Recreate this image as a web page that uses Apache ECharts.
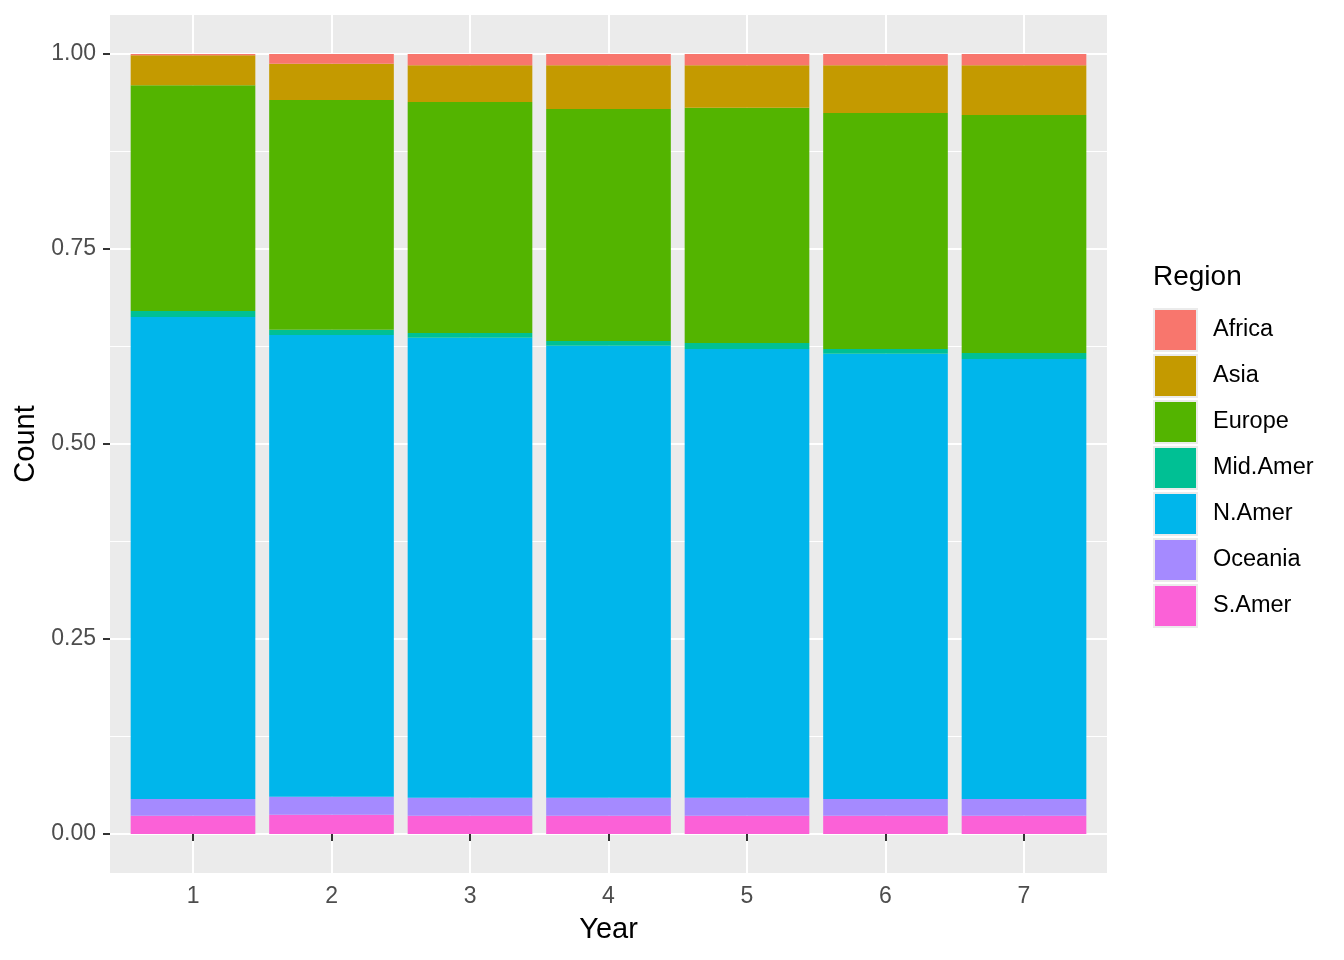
<!doctype html>
<html>
<head>
    <meta charset="utf-8" />
    <script src="https://cdn.jsdelivr.net/npm/echarts@6/dist/echarts.min.js" type="text/javascript"></script>
    <style>
        html, body { margin: 0; padding: 0; background: #fff; }
    </style>
</head>
<body>
<div id="charts" style="width: 1344px;height: 960px;"></div>
<script>
// years on the x axis
const years = [1, 2, 3, 4, 5, 6, 7];
const yTicks = [0, 0.25, 0.5, 0.75, 1];
const yMinor = [0.125, 0.375, 0.625, 0.875];

// share of each region per year
const sAmer = [0.0235, 0.0248, 0.0235, 0.0235, 0.0235, 0.0235, 0.0235];
const oceania = [0.0214, 0.0231, 0.0231, 0.0231, 0.0231, 0.0214, 0.0214];
const nAmer = [0.6179, 0.5918, 0.5897, 0.5794, 0.5752, 0.5709, 0.5641];
const midAmer = [0.0077, 0.0068, 0.0060, 0.0060, 0.0077, 0.0060, 0.0077];
const europe = [0.2895, 0.2945, 0.2962, 0.2975, 0.3015, 0.3026, 0.3051];
const asia = [0.0383, 0.0465, 0.0470, 0.0560, 0.0545, 0.0611, 0.0637];
const africa = [0.0017, 0.0125, 0.0145, 0.0145, 0.0145, 0.0145, 0.0145];

const regions = ["Africa", "Asia", "Europe", "Mid.Amer", "N.Amer", "Oceania", "S.Amer"];

// bottom of the stack first
const stackOrder = [
    ["S.Amer", sAmer, '#FB61D7'],
    ["Oceania", oceania, '#A58AFF'],
    ["N.Amer", nAmer, '#00B6EB'],
    ["Mid.Amer", midAmer, '#00C094'],
    ["Europe", europe, '#53B400'],
    ["Asia", asia, '#C49A00'],
    ["Africa", africa, '#F8766D']
];

const FONT = 'Liberation Sans';

let series = stackOrder.map(([name, values, color]) => ({
    name: name,
    type: 'bar',
    stack: 'total',
    xAxisIndex: 0,
    yAxisIndex: 0,
    barWidth: '90%',
    itemStyle: { color: color },
    emphasis: { disabled: true },
    data: values
}));

let options = {
    animation: false,
    textStyle: { fontFamily: FONT },
    title: {
        text: 'Region',
        left: 1153,
        top: 263,
        padding: 0,
        textStyle: { fontFamily: FONT, fontSize: 28, fontWeight: 'normal', color: '#000' }
    },
    legend: {
        orient: 'vertical',
        left: 1153,
        top: 308,
        padding: 0,
        icon: 'rect',
        itemWidth: 43,
        itemHeight: 42,
        itemGap: 2,
        selectedMode: false,
        data: regions,
        itemStyle: { borderColor: '#EBEBEB', borderWidth: 2 },
        textStyle: { fontFamily: FONT, fontSize: 23.5, color: '#000', padding: [0, 0, 0, 11] }
    },
    grid: [{
        // bars: 0..1 on y, categories with ggplot's 0.6 expansion
        left: 123.75,
        right: 250.75,
        top: 54,
        bottom: 126
    }, {
        // the grey panel with its axes and grid lines
        left: 110,
        right: 237,
        top: 15,
        bottom: 87,
        show: true,
        backgroundColor: '#EBEBEB',
        borderWidth: 0
    }],
    xAxis: [{
        type: 'category',
        gridIndex: 0,
        data: years,
        show: false
    }, {
        type: 'value',
        gridIndex: 1,
        min: 0.4,
        max: 7.6,
        name: 'Year',
        nameLocation: 'middle',
        nameGap: 42,
        nameTextStyle: { fontFamily: FONT, fontSize: 29, color: '#000' },
        axisLine: { show: false },
        axisTick: { show: true, length: 7, customValues: years, lineStyle: { color: '#333333', width: 2 } },
        axisLabel: { customValues: years, margin: 12, fontFamily: FONT, fontSize: 23, color: '#4D4D4D' },
        splitLine: { show: true, lineStyle: { color: '#FFFFFF', width: 2 } }
    }],
    yAxis: [{
        type: 'value',
        gridIndex: 0,
        min: 0,
        max: 1,
        show: false
    }, {
        type: 'value',
        gridIndex: 1,
        min: -0.05,
        max: 1.05,
        name: 'Count',
        nameLocation: 'middle',
        nameGap: 68,
        nameTextStyle: { fontFamily: FONT, fontSize: 29, color: '#000' },
        axisLine: { show: false },
        axisTick: { show: true, length: 7, customValues: yTicks, lineStyle: { color: '#333333', width: 2 } },
        axisLabel: {
            customValues: yTicks,
            margin: 14,
            fontFamily: FONT,
            fontSize: 23,
            color: '#4D4D4D',
            padding: [3, 0, 0, 0],
            formatter: v => Number(v).toFixed(2)
        },
        splitLine: { show: true, lineStyle: { color: '#FFFFFF', width: 2 } }
    }, {
        // minor grid lines only
        type: 'value',
        gridIndex: 1,
        min: -0.05,
        max: 1.05,
        position: 'left',
        axisLine: { show: false },
        axisTick: { show: false, customValues: yMinor },
        axisLabel: { show: false, customValues: yMinor },
        splitLine: { show: true, lineStyle: { color: '#FFFFFF', width: 1 } }
    }],
    series: series
};

var myChart = echarts.init(document.getElementById('charts'));
myChart.setOption(options);
</script>
</body>
</html>
